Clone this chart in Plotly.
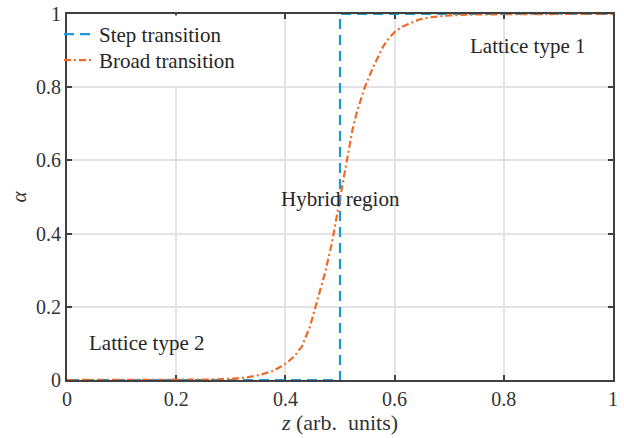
import plotly.graph_objects as go

# Step transition
step_z = [0.0, 0.5, 0.5, 1.0]
step_alpha = [0.0, 0.0, 1.0, 1.0]

# Broad transition
broad_z = [0.0, 0.10, 0.20, 0.25, 0.30, 0.33, 0.353, 0.378, 0.402, 0.417, 0.43, 0.445, 0.457,
           0.4725, 0.485, 0.495, 0.505, 0.515, 0.523, 0.531, 0.546, 0.561, 0.579, 0.59, 0.601,
           0.614, 0.628, 0.645, 0.665, 0.70, 0.75, 0.80, 0.90, 1.0]
broad_alpha = [0.0, 0.0, 0.0005, 0.001, 0.003, 0.007, 0.014, 0.025, 0.046, 0.066, 0.091, 0.146, 0.21,
               0.292, 0.373, 0.455, 0.542, 0.628, 0.685, 0.733, 0.802, 0.856, 0.911, 0.935, 0.952,
               0.965, 0.975, 0.985, 0.991, 0.996, 0.999, 1.0, 1.0, 1.0]

x_ticks = [0, 0.2, 0.4, 0.6, 0.8, 1]
x_tick_labels = ["0", "0.2", "0.4", "0.6", "0.8", "1"]
y_ticks = [0, 0.2, 0.4, 0.6, 0.8, 1]
y_tick_labels = ["0", "0.2", "0.4", "0.6", "0.8", "1"]

FONT = "Liberation Serif, Times New Roman, serif"
BLUE = "#1b9ad6"
ORANGE = "#ef6a28"
AXIS = "#404040"
GRID = "#e3e3e3"
TXT = "#262626"

fig = go.Figure()
fig.add_trace(go.Scatter(x=step_z, y=step_alpha, mode="lines", name="Step transition",
                         legend="legend",
                         line=dict(color=BLUE, width=2.2, dash="10px,6px")))
fig.add_trace(go.Scatter(x=broad_z, y=broad_alpha, mode="lines", name="Broad transition",
                         legend="legend2",
                         line=dict(color=ORANGE, width=2.2, dash="7px,3px,2px,3px")))

# white legend panel hiding the grid in the upper-left cell
fig.add_shape(type="rect", xref="x", yref="y", x0=0.003, x1=0.397, y0=0.803, y1=0.996,
              fillcolor="white", line=dict(width=0), layer="above")

ann_font = dict(family=FONT, size=21, color=TXT)
fig.add_annotation(x=0.844, y=0.913, xref="x", yref="y", text="Lattice type 1",
                   showarrow=False, font=ann_font)
fig.add_annotation(x=0.5, y=0.495, xref="x", yref="y", text="Hybrid region",
                   showarrow=False, font=ann_font)
fig.add_annotation(x=0.1465, y=0.101, xref="x", yref="y", text="Lattice type 2",
                   showarrow=False, font=ann_font)

axis_common = dict(showline=True, linecolor=AXIS, linewidth=2, mirror="ticks",
                   ticks="inside", ticklen=5, tickwidth=2, tickcolor=AXIS,
                   showgrid=True, gridcolor=GRID, gridwidth=2, zeroline=False,
                   tickfont=dict(family=FONT, size=20, color="#333"),
                   layer="below traces", automargin=False)

fig.update_xaxes(range=[0, 1], tickvals=x_ticks, ticktext=x_tick_labels,
                 title=dict(text="<i>z</i>\u00a0(arb.\u00a0 units)",
                            font=dict(family=FONT, size=22, color="#333"),
                            standoff=2),
                 **axis_common)
fig.update_yaxes(range=[0, 1], tickvals=y_ticks, ticktext=y_tick_labels,
                 title=dict(text="<i>α</i>", font=dict(family=FONT, size=21, color="#333"),
                            standoff=4),
                 **axis_common)

legend_common = dict(x=-0.0147, xanchor="left", yanchor="top", bgcolor="rgba(0,0,0,0)",
                     borderwidth=0, itemwidth=30, font=dict(family=FONT, size=21, color=TXT))

fig.update_layout(
    width=624, height=438,
    margin=dict(l=67, r=11, t=14, b=58),
    plot_bgcolor="white", paper_bgcolor="white",
    font=dict(family=FONT, color=TXT),
    showlegend=True,
    legend=dict(y=1.0, **legend_common),
    legend2=dict(y=0.929, **legend_common),
)

fig.write_html("out.html", config={"displayModeBar": False},
               post_script="document.body.style.margin='0px';")
